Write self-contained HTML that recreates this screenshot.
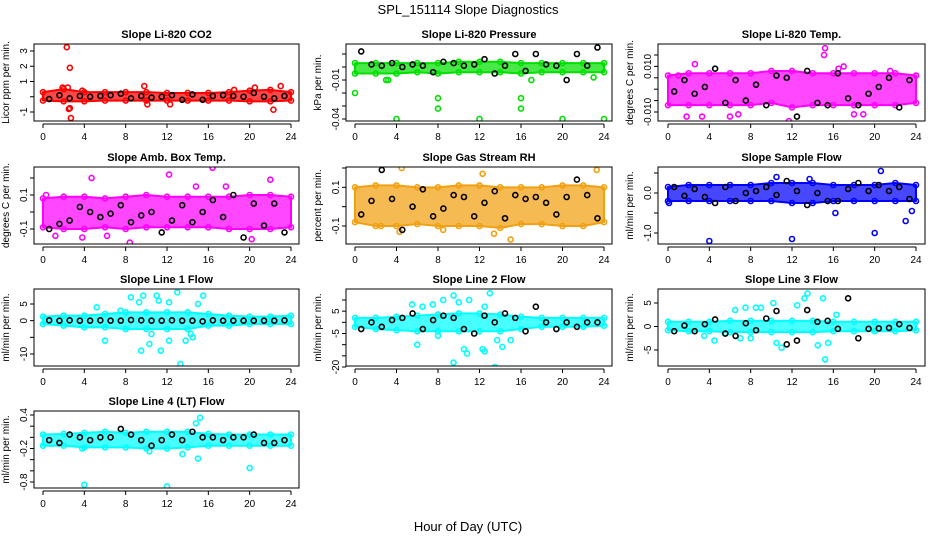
<!DOCTYPE html>
<html><head><meta charset="utf-8"><style>
html,body{margin:0;padding:0;background:#fff;}
svg{display:block;font-family:"Liberation Sans",sans-serif;}
</style></head><body>
<svg id="chart" width="936" height="540" viewBox="0 0 936 540" xmlns="http://www.w3.org/2000/svg">
<rect width="936" height="540" fill="#fff"/>
<text x="468" y="14" text-anchor="middle" font-size="13">SPL_151114  Slope Diagnostics</text>
<text x="468" y="531" text-anchor="middle" font-size="13">Hour of Day (UTC)</text>
</svg>
<script>
const xTicks=[0,4,8,12,16,20,24];
const bandHours=[0,2,4,6,8,10,12,14,16,18,20,22,24];
// Panel 1 CO2
const co2Lo=[-0.25,-0.3,-0.3,-0.25,-0.25,-0.25,-0.25,-0.25,-0.25,-0.25,-0.3,-0.3,-0.25];
const co2Hi=[0.3,0.5,0.3,0.3,0.3,0.3,0.25,0.25,0.25,0.3,0.4,0.45,0.3];
const co2OutH=[2.3,2.6,2.5,2.7,2.4,1.9,9.8,10.1,12.3,20.5,22.3,23,3.8,18.5,2.6];
const co2OutV=[3.25,1.9,-0.8,-1.4,0.6,0.6,0.7,-0.5,-0.5,0.6,-0.85,0.7,0.4,0.45,-0.75];
const co2Black=[-0.15,0.1,-0.1,0.05,0.0,0.05,0.1,0.2,-0.1,0.05,-0.05,0.0,0.1,-0.2,0.15,-0.2,0.05,0.1,0.05,0.0,0.25,0.0,-0.1,0.05];
// Panel 2 Pressure
const presLo=[-0.005,-0.005,-0.005,-0.004,-0.005,-0.004,-0.004,-0.004,-0.005,-0.004,-0.004,-0.004,-0.004];
const presHi=[0.003,0.003,0.003,0.003,0.003,0.004,0.004,0.004,0.003,0.003,0.003,0.003,0.003];
const presOutH=[0,4,8,8,12,16,16,20,24,3,3.2,17,23];
const presOutV=[-0.02,-0.04,-0.032,-0.024,-0.04,-0.032,-0.024,-0.04,-0.04,-0.01,-0.01,-0.01,-0.008];
const presBlack=[0.012,0.002,0.001,0.003,0,0.002,0.001,-0.004,0.004,0.003,0.001,0.002,0.006,-0.005,0.001,0.01,-0.003,0.01,0.002,0.001,-0.01,0.01,0.001,0.015];
// Panel 3 Li temp
const ltLo=[-0.007,-0.007,-0.007,-0.007,-0.007,-0.006,-0.008,-0.007,-0.007,-0.007,-0.007,-0.007,-0.006];
const ltHi=[0.006,0.007,0.007,0.007,0.007,0.008,0.008,0.007,0.007,0.007,0.007,0.007,0.006];
const ltOutH=[1,1.8,3.3,2.6,6,6.8,11.7,15.2,15.1,17,18,18.9,16.5,21.5];
const ltOutV=[0.006,-0.012,-0.012,0.011,-0.012,-0.011,-0.014,0.018,0.015,0.010,-0.011,-0.011,0.009,0.008];
const ltBlack=[-0.001,0.004,-0.002,0.001,0.009,-0.006,0.004,-0.005,0.002,-0.007,0.006,0.005,-0.012,0.008,-0.006,-0.007,0.007,-0.004,-0.007,-0.002,0.001,0.005,-0.008,0.004];
// Panel 4 Amb box temp
const abLo=[-0.09,-0.1,-0.1,-0.09,-0.1,-0.09,-0.09,-0.09,-0.09,-0.1,-0.1,-0.1,-0.09];
const abHi=[0.08,0.09,0.09,0.08,0.09,0.1,0.09,0.09,0.09,0.09,0.1,0.1,0.09];
const abOutH=[4.7,12.2,16.4,22,8.4,3.8,20.2,1.2,17.7,6.2,0.3,14.8];
const abOutV=[0.2,0.22,0.26,0.19,-0.18,-0.15,-0.16,-0.14,0.15,-0.14,0.1,0.15];
const abBlack=[-0.1,-0.07,-0.05,0.03,0.0,-0.03,-0.01,0.04,-0.06,-0.02,0.0,-0.12,-0.05,0.04,-0.06,0.0,0.07,-0.03,0.1,-0.15,0.05,-0.08,0.05,-0.12];
// Panel 5 RH
const rhLo=[-0.08,-0.1,-0.1,-0.09,-0.1,-0.1,-0.1,-0.11,-0.09,-0.09,-0.1,-0.1,-0.08];
const rhHi=[0.1,0.11,0.11,0.1,0.1,0.11,0.11,0.1,0.1,0.1,0.11,0.11,0.1];
const rhOutH=[4.5,12.3,23.3,15.0,4.3,13.4,8.5,2.5];
const rhOutV=[0.2,0.17,0.19,-0.17,-0.13,-0.14,-0.12,-0.1];
const rhBlack=[-0.04,0.03,0.19,0.04,-0.12,0.0,0.09,-0.05,-0.01,0.06,0.05,-0.05,0.02,0.08,-0.06,0.06,0.04,0.05,0.02,-0.04,0.05,0.14,0.06,-0.06];
// Panel 6 Sample flow
const sfLo=[-0.2,-0.2,-0.2,-0.2,-0.2,-0.2,-0.25,-0.25,-0.2,-0.2,-0.2,-0.2,-0.2];
const sfHi=[0.15,0.2,0.2,0.2,0.2,0.25,0.25,0.25,0.2,0.2,0.2,0.25,0.2];
const sfOutH=[4,12,20,23,23.6,20.6,16.2,0.1,13.7,10.5];
const sfOutV=[-1.2,-1.15,-1.0,-0.7,-0.45,0.55,-0.5,-0.25,0.35,0.4];
const sfBlack=[0.15,-0.07,0.1,-0.1,-0.25,0.15,-0.2,0.0,0.05,0.15,-0.05,0.3,0.05,-0.3,0.0,-0.2,-0.2,0.1,0.25,0.05,0.2,0.05,0.15,-0.15];
// Panel 7 Line 1
const l1Lo=[-1,-1.5,-2,-2,-2.5,-2.5,-2.5,-2.5,-1.5,-1.5,-1,-1,-1];
const l1Hi=[1.2,1.5,1.5,2,2.5,2.5,2.5,2.5,2,1.5,1.2,1.2,1.5];
const l1OutH=[5.2,6,8.5,9.3,9.7,11,11.2,12.2,13,13.3,13.8,14.5,15.5,10.5,10.3,12.2,9.5,14.3,15,7.5,11.4,8];
const l1OutV=[4,-6,7,5.5,7.5,7.5,6,5.5,8.5,-13,-6,-5,7.5,-4,-7,-6,-9,-4,5,3,-9,-2.5];
const l1Black=[0.1,0,0.1,0,0,0.1,0,0,0.2,0.1,0,0,0.1,0,0,-0.2,0.1,0,0,0,0,0,0,0.1];
// Panel 8 Line 2
const l2Lo=[-2,-3,-3.5,-4,-4,-4,-4,-4,-3,-2,-2,-2,-1.5];
const l2Hi=[2,2,2.5,3,3.5,4,4,3.5,2.5,2,2,2,2];
const l2OutH=[5.5,6,6.5,7.5,8,8.5,9.5,10,10.5,11,12.5,13,13.5,13.7,12.3,12.5,10.8,15,9.5,14.2];
const l2OutV=[8,-10,7,8,-6,10,12,9,-12,10,7,13,-20,-8,-12,-13,-14,-8,-18,-11];
const l2Black=[-3,0,-2,1,2,4,-3,1,3,2,-3,-5,3,0,4,2,-4,7,0,-3,0,-2,0,0];
// Panel 9 Line 3
const l3Lo=[-0.8,-1,-1,-1.2,-1.2,-1.2,-1.2,-1.2,-1,-1,-1,-1,-0.8];
const l3Hi=[1,1,1,1.2,1.2,1.2,1.2,1.2,1,1,1,1,1];
const l3OutH=[3.5,4.5,6.5,7.5,8,8.5,9,10.2,10.5,11,13.2,13.5,14.5,15,15.2,15.5,16.3,5.5,7,12.5];
const l3OutV=[-2,-3,3.5,4,-2.5,4,4,5,-3.5,-4.5,6,7,-4,6,-7,-3.5,2.5,-1.5,-2.5,4.5];
const l3Black=[-1,0.2,-1,0.5,1.5,-1.5,-2,0.7,-0.8,1.7,3.3,-3.8,-3,3.5,1,1.2,-0.5,6,-2.5,-0.5,-0.4,-0.3,0.5,-0.3];
// Panel 10 Line 4
const l4Lo=[-0.15,-0.15,-0.18,-0.18,-0.18,-0.2,-0.2,-0.18,-0.15,-0.15,-0.15,-0.15,-0.15];
const l4Hi=[0.05,0.06,0.08,0.1,0.08,0.1,0.1,0.1,0.06,0.05,0.05,0.05,0.05];
const l4OutH=[4,12,20,15,13.5,3.8,10.3,14.8,15.2];
const l4OutV=[-0.85,-0.88,-0.55,-0.38,-0.3,-0.2,-0.25,0.25,0.35];
const l4Black=[-0.05,-0.1,0.05,0.0,-0.05,0.0,0.0,0.15,0.05,-0.05,-0.15,-0.05,0.05,-0.05,0.1,0.0,0.0,-0.05,0.0,0.0,0.05,-0.1,-0.1,-0.05];

const panels=[
 {name:'co2',title:'Slope Li-820 CO2',ylab:'Licor ppm per min.',col:0,row:0,color:'#ff0000',a:[3,51],b:[-1,112],ticks:[3,2,1,0,-1],labels:['3','2','1','','-1'],lo:co2Lo,hi:co2Hi,oh:co2OutH,ov:co2OutV,blk:co2Black},
 {name:'pressure',title:'Slope Li-820 Pressure',ylab:'kPa per min.',col:1,row:0,color:'#00e000',a:[0.01,54],b:[-0.04,119],ticks:[0.01,0,-0.01,-0.02,-0.03,-0.04],labels:['','','-0.01','','','-0.04'],lo:presLo,hi:presHi,oh:presOutH,ov:presOutV,blk:presBlack},
 {name:'li-temp',title:'Slope Li-820 Temp.',ylab:'degrees C per min.',col:2,row:0,color:'#ff00ff',a:[0.015,55],b:[-0.01,112],ticks:[0.015,0.01,0.005,0,-0.005,-0.01],labels:['','0.010','','','','-0.010'],lo:ltLo,hi:ltHi,oh:ltOutH,ov:ltOutV,blk:ltBlack},
 {name:'amb-box-temp',title:'Slope Amb. Box Temp.',ylab:'degrees C per min.',col:0,row:1,color:'#ff00ff',a:[0.2,178],b:[-0.1,229],ticks:[0.2,0.1,0,-0.1],labels:['','0.1','','-0.1'],lo:abLo,hi:abHi,oh:abOutH,ov:abOutV,blk:abBlack},
 {name:'gas-stream-rh',title:'Slope Gas Stream RH',ylab:'percent per min.',col:1,row:1,color:'#f2a010',a:[0.2,168],b:[-0.1,226],ticks:[0.2,0.1,0,-0.1],labels:['','0.1','','-0.1'],lo:rhLo,hi:rhHi,oh:rhOutH,ov:rhOutV,blk:rhBlack},
 {name:'sample-flow',title:'Slope Sample Flow',ylab:'ml/min per min.',col:2,row:1,color:'#0000ff',a:[0.5,173],b:[-1,233],ticks:[0.5,0,-0.5,-1],labels:['','0.0','','-1.0'],lo:sfLo,hi:sfHi,oh:sfOutH,ov:sfOutV,blk:sfBlack},
 {name:'line1-flow',title:'Slope Line 1 Flow',ylab:'ml/min per min.',col:0,row:2,color:'#00ffff',a:[5,304],b:[-10,354],ticks:[5,0,-5,-10],labels:['5','0','','-10'],lo:l1Lo,hi:l1Hi,oh:l1OutH,ov:l1OutV,blk:l1Black},
 {name:'line2-flow',title:'Slope Line 2 Flow',ylab:'ml/min per min.',col:1,row:2,color:'#00ffff',a:[10,300],b:[-20,367],ticks:[10,5,0,-5,-10,-15,-20],labels:['','5','','-5','','','-20'],lo:l2Lo,hi:l2Hi,oh:l2OutH,ov:l2OutV,blk:l2Black},
 {name:'line3-flow',title:'Slope Line 3 Flow',ylab:'ml/min per min.',col:2,row:2,color:'#00ffff',a:[5,303],b:[-5,350],ticks:[5,0,-5],labels:['5','0','-5'],lo:l3Lo,hi:l3Hi,oh:l3OutH,ov:l3OutV,blk:l3Black},
 {name:'line4-flow',title:'Slope Line 4 (LT) Flow',ylab:'ml/min per min.',col:0,row:3,color:'#00ffff',a:[0.4,415],b:[-0.8,482],ticks:[0.4,0.2,0,-0.2,-0.4,-0.6,-0.8],labels:['0.4','','','-0.2','','','-0.8'],lo:l4Lo,hi:l4Hi,oh:l4OutH,ov:l4OutV,blk:l4Black}
];
const colBox=[[34,299],[346,612],[658,925]];
const colX=[[43,291],[355,604],[668,916]];
const rowTop=[44,167,289,411];
const H=77;
const NS='http://www.w3.org/2000/svg';
const svg=document.getElementById('chart');
function mk(tag,attrs,parent){const e=document.createElementNS(NS,tag);for(const k in attrs)e.setAttribute(k,attrs[k]);(parent||svg).appendChild(e);return e;}
panels.forEach(p=>{
  const g=mk('g',{});
  
  
  const L=colBox[p.col][0],R=colBox[p.col][1],T=rowTop[p.row],B=T+H;
  const xs=h=>colX[p.col][0]+(colX[p.col][1]-colX[p.col][0])*h/24;
  const ys=v=>p.a[1]+(v-p.a[0])*(p.b[1]-p.a[1])/(p.b[0]-p.a[0]);
  const clip='clip-'+p.name;
  const cp=mk('clipPath',{id:clip},g);mk('rect',{x:L,y:T,width:R-L,height:H},cp);
  const dg=mk('g',{'clip-path':'url(#'+clip+')'},g);
  let pts=bandHours.map((h,i)=>xs(h)+','+ys(p.hi[i]));
  pts=pts.concat(bandHours.slice().reverse().map((h,i)=>xs(h)+','+ys(p.lo[p.lo.length-1-i])));
  const band=mk('polygon',{points:pts.join(' '),fill:p.color,'fill-opacity':0.72,stroke:p.color,'stroke-width':2,'stroke-linejoin':'round'},dg);
  
  
  bandHours.forEach((h,i)=>{
    [p.hi[i],p.lo[i]].forEach(v=>{
      const c=mk('circle',{cx:xs(h),cy:ys(v),r:2.5,fill:'none',stroke:p.color,'stroke-width':1.6},dg);
      
      
    });
  });
  p.oh.forEach((h,i)=>{
    const c=mk('circle',{cx:xs(h),cy:ys(p.ov[i]),r:2.5,fill:'none',stroke:p.color,'stroke-width':1.6},dg);
    
    
  });
  p.blk.forEach((v,i)=>{
    const c=mk('circle',{cx:xs(0.6+i*0.99),cy:ys(v),r:2.5,fill:'none',stroke:'#000','stroke-width':1.6},dg);
    
    
  });
  mk('rect',{x:L,y:T,width:R-L,height:H,fill:'none',stroke:'#000','stroke-width':1},g);
  const t=mk('text',{x:(L+R)/2,y:T-6,'text-anchor':'middle','font-size':11,'font-weight':'bold'},g);t.textContent=p.title;
  
  
  const yl=mk('text',{transform:'translate('+(L-25)+','+(T+H/2)+') rotate(-90)','text-anchor':'middle','font-size':10},g);yl.textContent=p.ylab;
  
  
  const yt=p.ticks.map(ys);
  mk('line',{x1:L,x2:L,y1:Math.min(...yt),y2:Math.max(...yt),stroke:'#000'},g);
  p.ticks.forEach((v,i)=>{
    const y=ys(v);
    mk('line',{x1:L-4,x2:L,y1:y,y2:y,stroke:'#000'},g);
    if(p.labels[i]){const tl=mk('text',{transform:'translate('+(L-7)+','+y+') rotate(-90)','text-anchor':'middle','font-size':10},g);tl.textContent=p.labels[i];
      
      }
  });
  mk('line',{x1:xs(0),x2:xs(24),y1:B+3,y2:B+3,stroke:'#000'},g);
  xTicks.forEach(h=>{
    const x=xs(h);
    mk('line',{x1:x,x2:x,y1:B+3,y2:B+7,stroke:'#000'},g);
    const tl=mk('text',{x:x,y:B+19,'text-anchor':'middle','font-size':10},g);tl.textContent=h;
    
    
  });
});
</script>
</body></html>
